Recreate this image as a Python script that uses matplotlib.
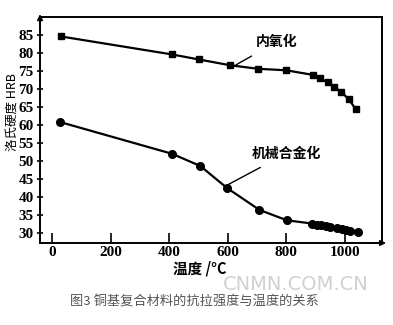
import matplotlib
matplotlib.use("Agg")
import matplotlib.pyplot as plt

# 内氧化 (squares)
temp_oxid = [30, 410, 502, 608, 705, 800, 893, 916, 942, 965, 988, 1015, 1038]
hrb_oxid = [84.6, 79.6, 78.2, 76.6, 75.6, 75.2, 73.9, 73.0, 71.8, 70.5, 69.2, 67.1, 64.4]

# 机械合金化 (circles)
temp_mech = [28, 410, 507, 598, 709, 803, 890, 905, 920, 935, 950, 975, 990, 1005, 1020, 1045]
hrb_mech = [60.8, 52.0, 48.6, 42.5, 36.4, 33.5, 32.6, 32.3, 32.1, 31.9, 31.7, 31.4, 31.2, 30.9, 30.6, 30.2]

xticks = [0, 200, 400, 600, 800, 1000]
yticks = [30, 35, 40, 45, 50, 55, 60, 65, 70, 75, 80, 85]

cjk = ['Noto Sans CJK SC', 'DejaVu Sans']

fig = plt.figure(figsize=(3.93, 3.25), dpi=100)
fig.patch.set_facecolor("white")
ax = fig.add_axes([40/393, 82/325, 342/393, 226/325])

ax.plot(temp_oxid, hrb_oxid, color='black', linewidth=1.6, marker='s', markersize=5)
ax.plot(temp_mech, hrb_mech, color='black', linewidth=1.6, marker='o', markersize=5.5)

ax.set_xlim(-41, 1128)
ax.set_ylim(27.2, 90)
ax.set_xticks(xticks)
ax.set_yticks(yticks)
ax.tick_params(axis='x', direction='in', length=7, width=1.2, pad=2)
ax.tick_params(axis='y', direction='inout', length=5, width=1.2, pad=2)
for lab in ax.get_xticklabels() + ax.get_yticklabels():
    lab.set_fontfamily('Liberation Serif')
    lab.set_fontweight('bold')
    lab.set_fontsize(11)
for s in ax.spines.values():
    s.set_linewidth(1.4)

# axis arrows
ax.annotate('', xy=(0, 1.025), xytext=(0, 0.95), xycoords='axes fraction',
            arrowprops=dict(arrowstyle='-|>', color='black', lw=1.2, mutation_scale=8))
ax.annotate('', xy=(1.02, 0), xytext=(0.97, 0), xycoords='axes fraction',
            arrowprops=dict(arrowstyle='-|>', color='black', lw=1.2, mutation_scale=8))

# labels for curves
ax.annotate('内氧化', xy=(629, 76.7), xytext=(766, 83), ha='center', va='center',
            fontsize=10, fontweight='bold', family=cjk,
            arrowprops=dict(arrowstyle='-', color='black', lw=1.0, shrinkA=6, shrinkB=0))
ax.annotate('机械合金化', xy=(599, 43.3), xytext=(800, 52), ha='center', va='center',
            fontsize=10, fontweight='bold', family=cjk,
            arrowprops=dict(arrowstyle='-', color='black', lw=1.0, shrinkA=6, shrinkB=0))

fig.text(200/393, 1 - 269/325, '温度 /°C', ha='center', va='center',
         fontsize=10.5, fontweight='bold', family=cjk)
fig.text(12/393, 1 - 112/325, '洛氏硬度 HRB', ha='center', va='center', rotation=90,
         fontsize=9, family=cjk)

fig.text(296/393, 1 - 285/325, 'CNMN.COM.CN', ha='center', va='center',
         fontsize=14, color='#d0d0d0', family='DejaVu Sans')
fig.text(194/393, 1 - 302/325, '图3 铜基复合材料的抗拉强度与温度的关系', ha='center', va='center',
         fontsize=9.5, color='#555555', family=cjk)

fig.savefig('out.png', dpi=100, facecolor='white')
